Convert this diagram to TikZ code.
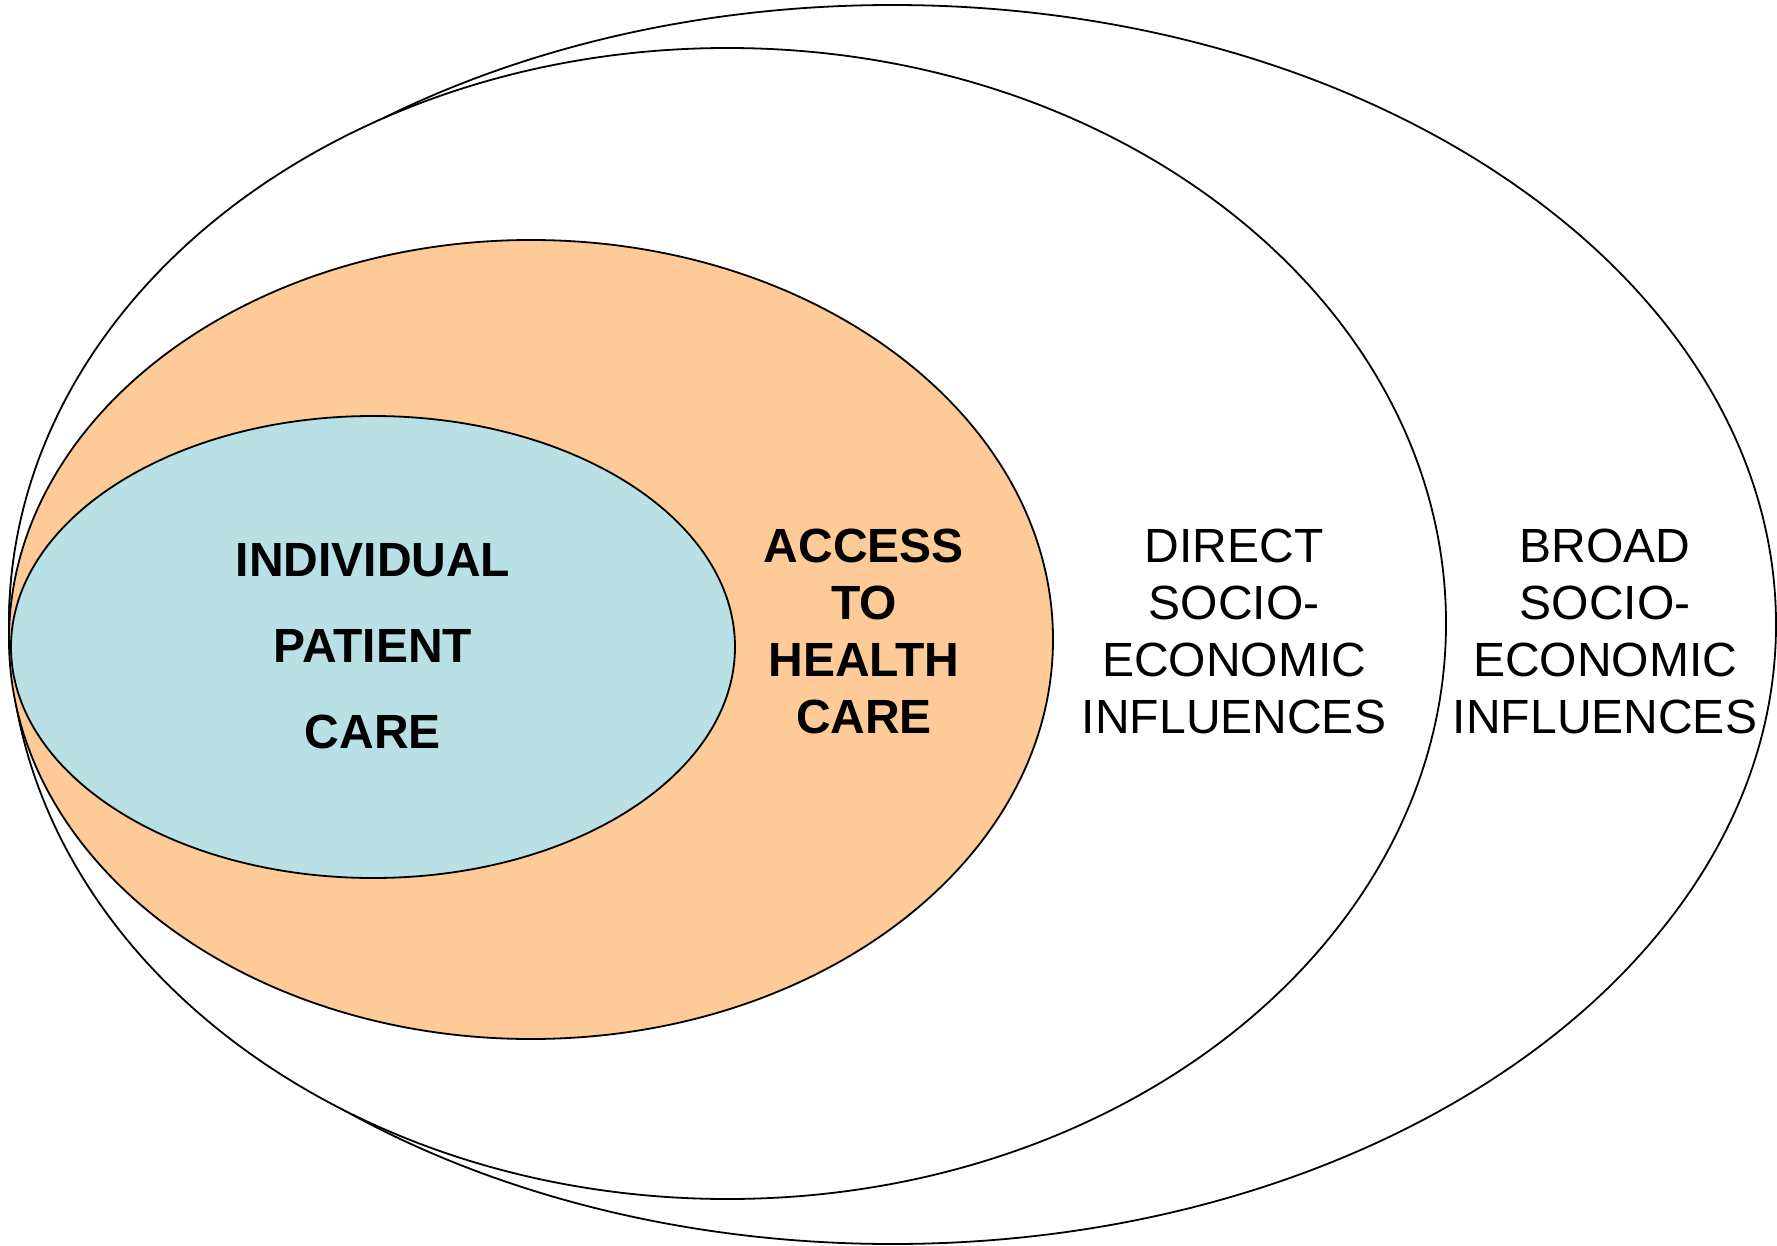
\documentclass[tikz,border=0pt]{standalone}
\usepackage{fontspec}
\setmainfont{Liberation Sans}
\definecolor{careblue}{RGB}{185,224,228}
\definecolor{accessorange}{RGB}{253,202,152}
\begin{document}
\begin{tikzpicture}[x=0.5pt,y=-0.5pt,
  ring/.style={draw=black,line width=0.9pt},
  boldlabel/.style={align=center,font=\fontsize{24}{28.5}\selectfont\bfseries,inner sep=0pt},
  plainlabel/.style={align=center,font=\fontsize{24}{28.5}\selectfont,inner sep=0pt}]
\useasboundingbox (0,0) rectangle (1777,1246);
\fill[white] (0,0) rectangle (1777,1246);
\draw[ring,fill=white] (892.5,624.5) ellipse [x radius=883.5, y radius=619.5];
\draw[ring,fill=white] (727.5,623.5) ellipse [x radius=718.5, y radius=575.5];
\draw[ring,fill=accessorange] (531,639.5) ellipse [x radius=522, y radius=399.5];
\draw[ring,fill=careblue] (373,647) ellipse [x radius=362, y radius=231];
\node[boldlabel,font=\fontsize{24}{43}\selectfont\bfseries] (care) at (373,646) {INDIVIDUAL\\PATIENT\\CARE};
\node[boldlabel] (access) at (864,631) {ACCESS\\TO\\HEALTH\\CARE};
\node[plainlabel] (direct) at (1234,631) {DIRECT\\SOCIO-\\ECONOMIC\\INFLUENCES};
\node[plainlabel] (broad) at (1605,631) {BROAD\\SOCIO-\\ECONOMIC\\INFLUENCES};
\end{tikzpicture}
\end{document}
